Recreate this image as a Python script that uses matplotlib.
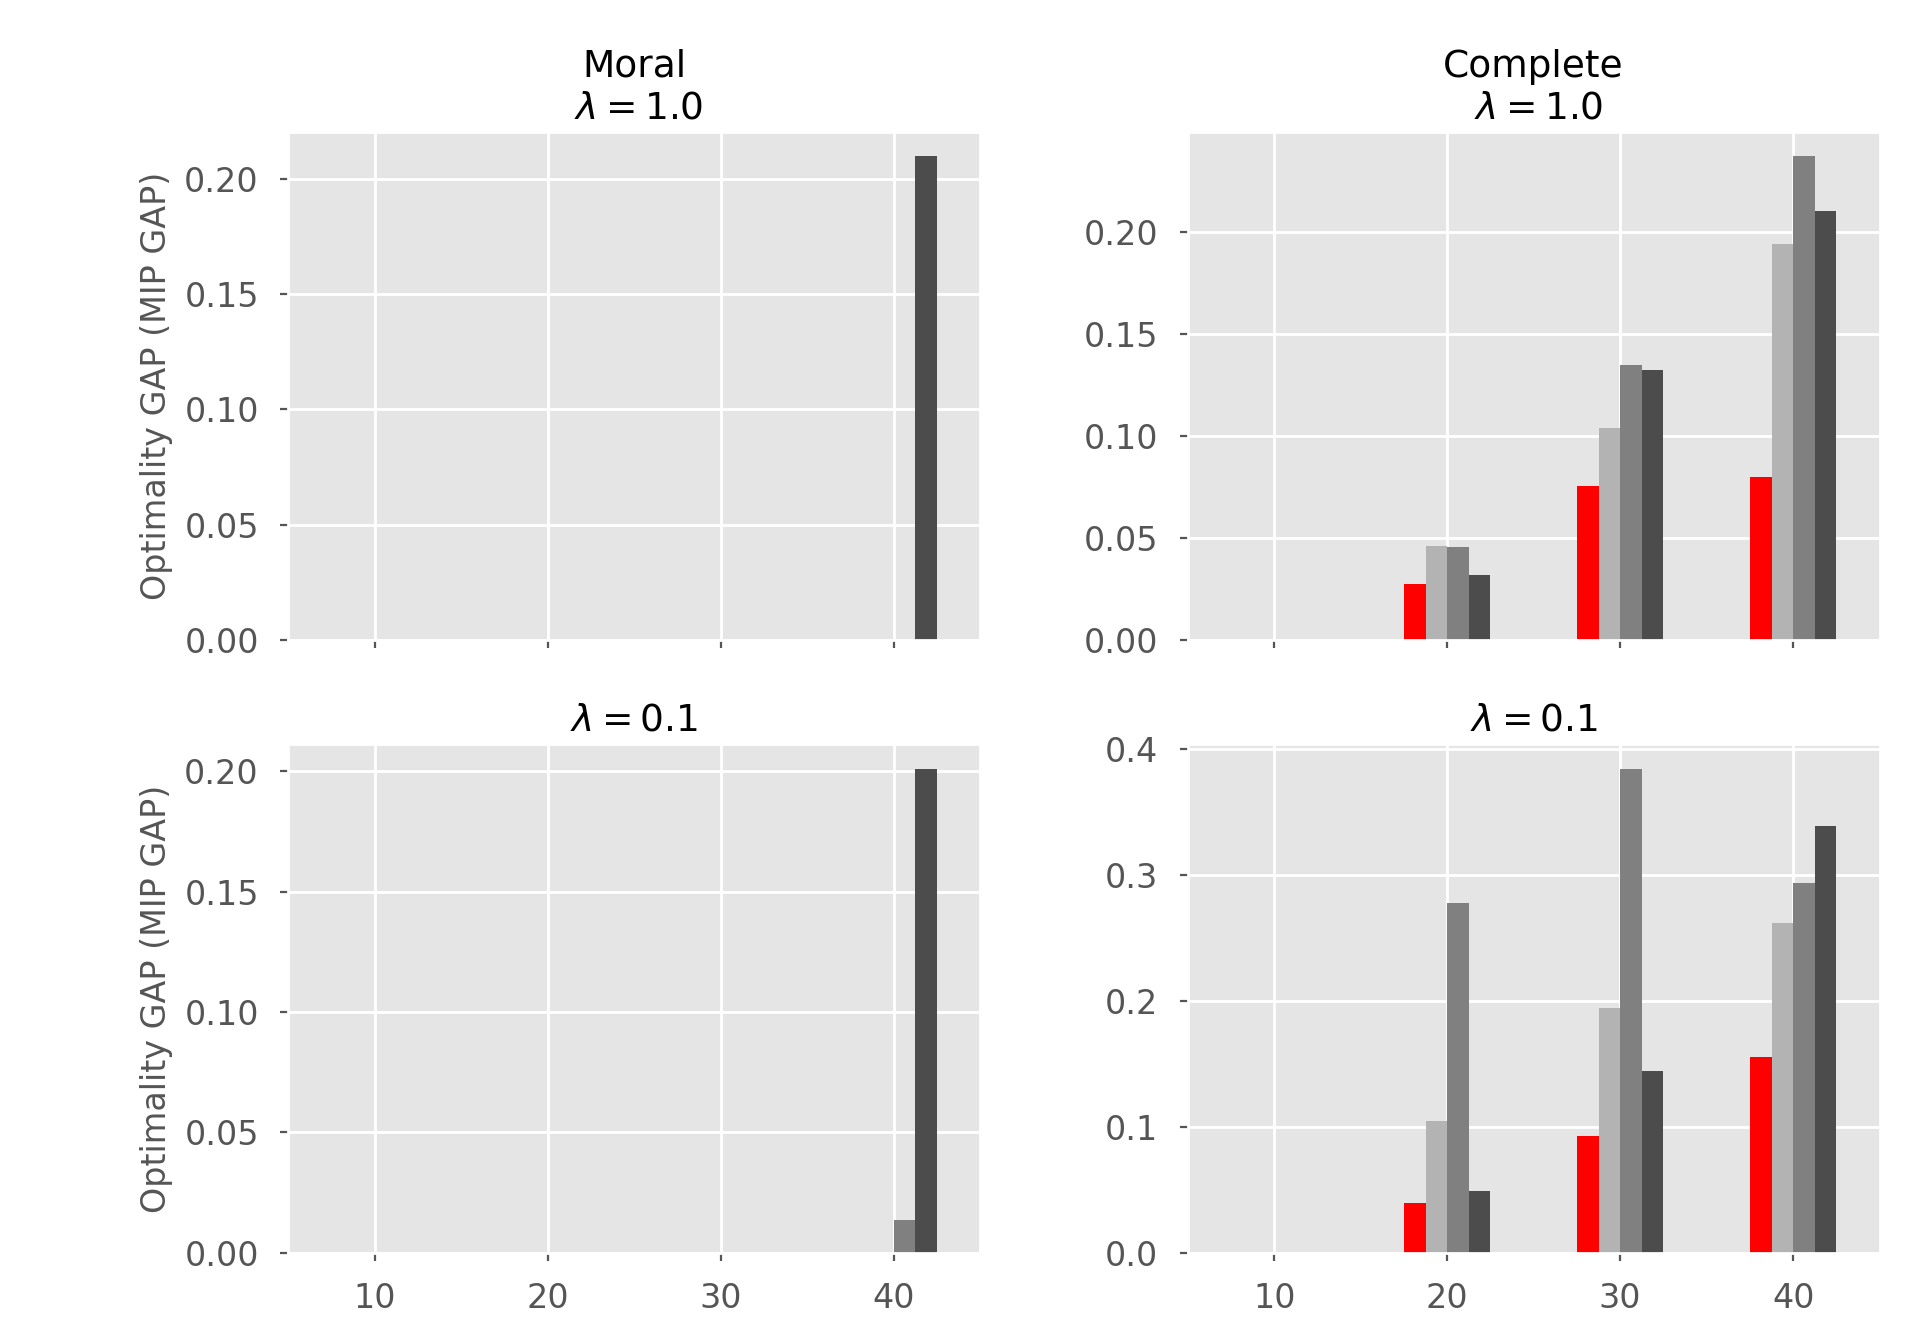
import matplotlib
matplotlib.use("Agg")
import matplotlib.pyplot as plt
from matplotlib.ticker import MaxNLocator
import numpy as np

plt.style.use("ggplot")

sizes = [10, 20, 30, 40]
colors = ["red", "#b3b3b3", "#808080", "#4c4c4c"]

# Moral, lambda = 1.0  (one list per series)
moral_l1 = [
    [0.0, 0.0, 0.0, 0.0],
    [0.0, 0.0003, 0.0003, 0.0003],
    [0.0, 0.0, 0.0, 0.0],
    [0.0, 0.0, 0.0, 0.2097],
]
# Moral, lambda = 0.1
moral_l01 = [
    [0.0, 0.0, 0.0, 0.0],
    [0.0, 0.0, 0.0, 0.0],
    [0.0, 0.0, 0.0, 0.0137],
    [0.0, 0.0, 0.0, 0.2011],
]
# Complete, lambda = 1.0
complete_l1 = [
    [0.0, 0.0275, 0.0756, 0.0798],
    [0.0, 0.0461, 0.1042, 0.1943],
    [0.0, 0.0456, 0.1350, 0.2373],
    [0.0, 0.0319, 0.1324, 0.2104],
]
# Complete, lambda = 0.1
complete_l01 = [
    [0.0, 0.0394, 0.0930, 0.1552],
    [0.0, 0.1047, 0.1946, 0.2617],
    [0.0, 0.2778, 0.3846, 0.2937],
    [0.0, 0.0489, 0.1443, 0.3394],
]

width = 1.25
offsets = [-2.5, -1.25, 0.0, 1.25]

fig, axes = plt.subplots(2, 2, figsize=(9.6, 6.6), dpi=200, sharex=True)
fig.subplots_adjust(left=0.15, right=0.979, top=0.9, bottom=0.051,
                    hspace=0.205, wspace=0.30)

panels = [
    (axes[0, 0], moral_l1, "Moral\n $\\lambda = 1.0$"),
    (axes[0, 1], complete_l1, "Complete\n $\\lambda = 1.0$"),
    (axes[1, 0], moral_l01, "$\\lambda = 0.1$"),
    (axes[1, 1], complete_l01, "$\\lambda = 0.1$"),
]

x = np.array(sizes, dtype=float)
for ax, data, title in panels:
    for vals, off, c in zip(data, offsets, colors):
        ax.bar(x + off, vals, width=width, align="edge", color=c, linewidth=0)
    ax.set_title(title, fontsize=13.5, pad=5)
    ax.set_xlim(5, 45)
    ax.set_xticks(sizes)
    ax.yaxis.set_major_locator(MaxNLocator(nbins=5))
    ax.tick_params(labelsize=12, pad=7.5, length=3)
    ax.grid(True, color="white", linewidth=1.0)

for ax in axes[:, 0]:
    ax.set_ylabel("Optimality GAP (MIP GAP)", fontsize=12)

fig.savefig("out.png", dpi=200)
